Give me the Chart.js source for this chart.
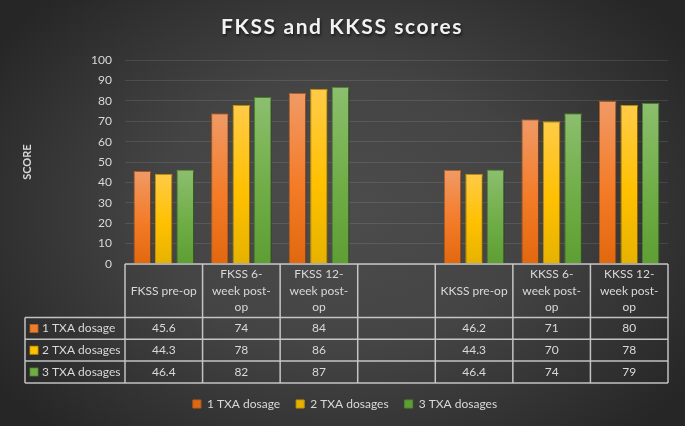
<!DOCTYPE html>
<html>
<head>
<meta charset="utf-8">
<script src="https://cdn.jsdelivr.net/npm/chart.js@4.4.0/dist/chart.umd.min.js"></script>
<style>
  html, body { margin: 0; padding: 0; background: #333; }
  #wrap { width: 685px; height: 426px; position: relative; }
</style>
</head>
<body>
<div id="wrap"><canvas id="c" width="685" height="426"></canvas></div>
<script>
// ---- data ----
const categories = [
  ['FKSS pre-op'],
  ['FKSS 6-', 'week post-', 'op'],
  ['FKSS 12-', 'week post-', 'op'],
  [''],
  ['KKSS pre-op'],
  ['KKSS 6-', 'week post-', 'op'],
  ['KKSS 12-', 'week post-', 'op']
];
const seriesNames = ['1 TXA dosage', '2 TXA dosages', '3 TXA dosages'];
const dose1 = [45.6, 74, 84, null, 46.2, 71, 80];
const dose2 = [44.3, 78, 86, null, 44.3, 70, 78];
const dose3 = [46.4, 82, 87, null, 46.4, 74, 79];
const yMin = 0, yMax = 100, yStep = 10;
const chartTitle = 'FKSS and KKSS scores';
const yTitle = 'SCORE';

// ---- styles ----
const FONT = 'Lato, "Open Sans", sans-serif';
const TEXT = '#d9d9d9';
const palettes = [
  { top: '#F09A66', mid: '#F47B27', bot: '#E2680F', solid: '#ED7D31', border: '#B85F22' },
  { top: '#FFCB48', mid: '#FFC000', bot: '#E6B200', solid: '#FFC000', border: '#C99A00' },
  { top: '#8CBF6E', mid: '#70AD47', bot: '#5E9E33', solid: '#70AD47', border: '#4F8A2E' }
];

function gradFill(p) {
  return (c) => {
    if (c.type !== 'data' || c.raw == null) return p.solid;
    const ch = c.chart, ys = ch.scales && ch.scales.y;
    if (!ys) return p.solid;
    const t = ys.getPixelForValue(c.raw), b = ys.getPixelForValue(0);
    if (!isFinite(t) || !isFinite(b) || t === b) return p.solid;
    const g = ch.ctx.createLinearGradient(0, t, 0, b);
    g.addColorStop(0, p.top);
    g.addColorStop(0.55, p.mid);
    g.addColorStop(1, p.bot);
    return g;
  };
}

const bgPlugin = {
  id: 'bg',
  beforeDraw(chart) {
    const { ctx, width, height } = chart;
    ctx.save();
    ctx.fillStyle = '#262626';
    ctx.fillRect(0, 0, width, height);
    ctx.translate(width / 2, height / 2);
    ctx.scale(1, 0.72);
    const r = 420;
    const g = ctx.createRadialGradient(0, 0, 0, 0, 0, r);
    g.addColorStop(0, '#4c4c4c');
    g.addColorStop(0.45, '#444444');
    g.addColorStop(1, '#262626');
    ctx.fillStyle = g;
    ctx.fillRect(-r, -r / 0.72, 2 * r, 2 * r / 0.72);
    ctx.restore();
  }
};

// title styling (letter spacing + soft shadow) and centring of title/legend
const layoutTweaks = {
  id: 'layoutTweaks',
  afterLayout(chart) {
    const tb = chart.titleBlock;
    if (tb) {
      if (!tb._wrapped) {
        const orig = tb.draw;
        tb.draw = function (...args) {
          const ctx = this.ctx;
          ctx.save();
          try { ctx.letterSpacing = '1.6px'; } catch (e) {}
          ctx.shadowColor = 'rgba(0,0,0,0.6)';
          ctx.shadowBlur = 3;
          ctx.shadowOffsetX = 1;
          ctx.shadowOffsetY = 1.5;
          orig.apply(this, args);
          ctx.restore();
        };
        tb._wrapped = true;
      }
      tb.left += 8; tb.right += 8;
    }
    const lg = chart.legend;
    if (lg) { lg.left += 11; lg.right += 11; }
  }
};

const shadowPlugin = {
  id: 'barShadow',
  beforeDatasetsDraw(chart) {
    const ctx = chart.ctx;
    ctx.save();
    ctx.shadowColor = 'rgba(0,0,0,0.45)';
    ctx.shadowBlur = 4;
    ctx.shadowOffsetX = 2;
    ctx.shadowOffsetY = 1;
  },
  afterDatasetsDraw(chart) {
    chart.ctx.restore();
  }
};

const tablePlugin = {
  id: 'dataTable',
  afterDraw(chart) {
    const { ctx, chartArea: a, scales: { x } } = chart;
    const n = categories.length;
    const colW = (a.right - a.left) / n;
    const top = a.bottom;
    const hdrBot = top + 53.5;
    const rowH = 21.8;
    const rowsY = [hdrBot, hdrBot + rowH, hdrBot + 2 * rowH, hdrBot + 3 * rowH];
    const leftX = 25;
    const series = [dose1, dose2, dose3];

    ctx.save();
    ctx.strokeStyle = 'rgba(220,220,220,0.85)';
    ctx.lineWidth = 1.5;
    ctx.beginPath();
    ctx.moveTo(a.left, top); ctx.lineTo(a.right, top);
    rowsY.forEach(y => { ctx.moveTo(leftX, y); ctx.lineTo(a.right, y); });
    for (let i = 0; i <= n; i++) {
      const xx = (i < n ? x.getPixelForValue(i) - colW / 2 : x.getPixelForValue(n - 1) + colW / 2);
      ctx.moveTo(xx, top); ctx.lineTo(xx, rowsY[3]);
    }
    ctx.moveTo(leftX, rowsY[0]); ctx.lineTo(leftX, rowsY[3]);
    ctx.stroke();

    ctx.fillStyle = TEXT;
    ctx.font = '12px ' + FONT;
    ctx.textAlign = 'center';
    ctx.textBaseline = 'middle';
    const lh = 16.5;
    const hdrMid = (top + hdrBot) / 2;
    categories.forEach((lines, i) => {
      const cx = x.getPixelForValue(i);
      const y0 = hdrMid - (lines.length - 1) * lh / 2;
      lines.forEach((t, k) => ctx.fillText(t, cx, y0 + k * lh));
      series.forEach((s, r) => {
        if (s[i] == null) return;
        ctx.fillText(String(s[i]), cx, (rowsY[r] + rowsY[r + 1]) / 2);
      });
    });
    ctx.textAlign = 'left';
    seriesNames.forEach((name, r) => {
      const cy = (rowsY[r] + rowsY[r + 1]) / 2;
      ctx.fillStyle = palettes[r].solid;
      ctx.fillRect(30, cy - 4, 8, 8);
      ctx.strokeStyle = palettes[r].border;
      ctx.lineWidth = 0.8;
      ctx.strokeRect(30, cy - 4, 8, 8);
      ctx.fillStyle = TEXT;
      ctx.fillText(name, 42, cy);
    });
    ctx.restore();
  }
};

const dsList = [dose1, dose2, dose3].map((d, i) => ({
  label: seriesNames[i],
  data: d,
  backgroundColor: gradFill(palettes[i]),
  borderColor: palettes[i].border,
  borderWidth: 1,
  categoryPercentage: 0.83,
  barPercentage: 0.82
}));

new Chart(document.getElementById('c'), {
  type: 'bar',
  data: { labels: categories.map(l => l.join(' ')), datasets: dsList },
  plugins: [bgPlugin, layoutTweaks, shadowPlugin, tablePlugin],
  options: {
    responsive: false,
    animation: false,
    devicePixelRatio: 1,
    layout: { padding: { left: 0, right: 17, top: 0, bottom: 6 } },
    plugins: {
      title: {
        display: true,
        text: chartTitle,
        color: '#f2f2f2',
        font: { family: FONT, size: 21, weight: 'bold', lineHeight: 1.2 },
        padding: { top: 15, bottom: 20 }
      },
      legend: {
        position: 'bottom',
        labels: {
          boxWidth: 8,
          boxHeight: 8,
          color: TEXT,
          font: { family: FONT, size: 12 },
          padding: 16
        }
      },
      tooltip: { enabled: false }
    },
    scales: {
      x: {
        grid: { display: false },
        border: { display: false },
        ticks: { display: false },
        afterFit(s) { s.height = 118; }
      },
      y: {
        min: yMin,
        max: yMax,
        ticks: { stepSize: yStep, color: TEXT, font: { family: FONT, size: 12 }, padding: 13 },
        grid: { color: 'rgba(255,255,255,0.1)', lineWidth: 1, drawTicks: false },
        border: { display: false },
        title: {
          display: true,
          text: yTitle,
          color: TEXT,
          font: { family: FONT, size: 11, weight: 'bold' },
          padding: { top: 21, bottom: 0 }
        },
        afterFit(s) { s.width = 125; }
      }
    }
  }
});
</script>
</body>
</html>
